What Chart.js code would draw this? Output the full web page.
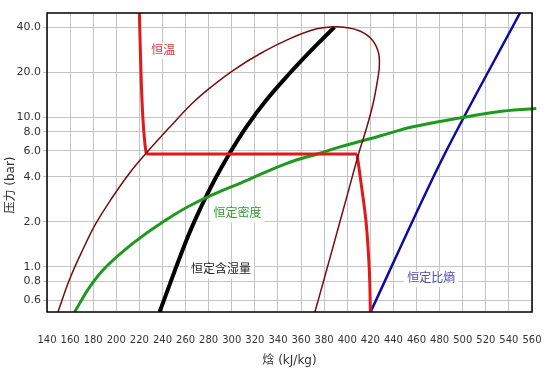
<!DOCTYPE html>
<html>
<head>
<meta charset="utf-8">
<script src="https://cdn.jsdelivr.net/npm/chart.js@4"></script>
<style>
  html, body { margin: 0; padding: 0; background: #fff; }
  canvas { display: block; }
</style>
</head>
<body>
<canvas id="phChart" width="551" height="368" style="width:551px;height:368px"></canvas>
<script>
// pressure / enthalpy chart
const yTicks = [0.6, 0.8, 1, 2, 4, 6, 8, 10, 20, 40];

// saturation dome
const domeX = [149.5, 159.5, 171.1, 182.6, 197.1, 211.4, 225.9, 246.6, 265.6, 282.1, 301.3, 324.4, 350.4, 373.5, 387.8, 398.8, 410.9, 421.3, 427, 427.8, 426.7, 422.4, 416.2, 410, 400.5, 391, 381.5, 372];
const domeY = [0.5, 0.825, 1.31, 1.97, 2.96, 4.24, 5.77, 8.67, 12.4, 16.0, 20.7, 26.7, 33.7, 39.2, 40.4, 40.0, 37.9, 33.3, 27.3, 22.3, 18.7, 12.4, 8.24, 5.77, 3.12, 1.69, 0.915, 0.5];

// 恒温 (two corners: index 4 and index 5)
const isothermX = [220, 221.5, 223, 224.7, 226, 408.5, 412.4, 416.1, 418.3, 419.5, 420];
const isothermY = [50, 18.7, 10, 6.75, 5.7, 5.7, 3.45, 2.07, 1.25, 0.8, 0.5];

// 恒定密度
const densityX = [163.9, 177.5, 191.0, 214.9, 240.3, 268.2, 314.1, 347.8, 376.3, 394.5, 428.2, 457, 499.7, 529.1, 563.7];
const densityY = [0.5, 0.745, 1.0, 1.45, 2.0, 2.68, 3.83, 4.94, 5.77, 6.38, 7.52, 8.67, 10.0, 10.9, 11.5];

// 恒定含湿量
const qualityX = [237.5, 260.9, 273.6, 285.2, 297.3, 312.7, 330, 350, 368.8, 388.9];
const qualityY = [0.5, 1.52, 2.54, 3.83, 5.62, 8.67, 13.1, 19.7, 28.1, 40.2];

// 恒定比熵
const entropyX = [420.2, 481.8, 549.6];
const entropyY = [0.5, 5.2, 50];

const lineLabels = ['恒温', '恒定密度', '恒定含湿量', '恒定比熵'];

const pts = (xs, ys, from, to) => {
  const a = xs.slice(from, to), b = ys.slice(from, to);
  return a.map((x, i) => ({ x: x, y: b[i] }));
};

// where the line names sit (x, y in axis units) and their colours
const labelSpots = [
  { x: 240.6, y: 27.8, color: '#d23a3a' },
  { x: 305, y: 2.25, color: '#2f9a2f' },
  { x: 290.7, y: 0.95, color: '#222222' },
  { x: 472.7, y: 0.83, color: '#4a4aa8' }
];

const font = "'DejaVu Sans', 'Noto Sans CJK SC', sans-serif";
const red = '#e01a1a';

const extras = {
  id: 'extras',
  beforeDatasetsDraw(chart) {
    const c = chart.ctx;
    const xs = chart.scales.x, ys = chart.scales.y;
    c.save();
    c.font = '12px ' + font;
    c.textAlign = 'center';
    c.textBaseline = 'middle';
    lineLabels.forEach((t, i) => {
      const s = labelSpots[i];
      const px = xs.getPixelForValue(s.x);
      const py = ys.getPixelForValue(s.y);
      const w = c.measureText(t).width;
      c.fillStyle = '#fff';
      c.fillRect(px - w / 2 - 3, py - 8, w + 6, 16);
      c.fillStyle = s.color;
      c.fillText(t, px, py);
    });
    c.restore();
  },
  afterDraw(chart) {
    const c = chart.ctx;
    const a = chart.chartArea;
    c.save();
    c.strokeStyle = '#000';
    c.lineWidth = 1.5;
    c.strokeRect(a.left, a.top, a.right - a.left, a.bottom - a.top);
    // y axis title
    c.translate(11, 185);
    c.rotate(-Math.PI / 2);
    c.font = '12px ' + font;
    c.fillStyle = '#333';
    c.textAlign = 'center';
    c.textBaseline = 'middle';
    c.fillText('压力 (bar)', 0, 0);
    c.restore();
  }
};

const ctx = document.getElementById('phChart');
new Chart(ctx, {
  type: 'scatter',
  data: {
    datasets: [
      { data: pts(domeX, domeY), borderColor: '#780c0c', borderWidth: 1.5, tension: 0.4 },
      { data: pts(isothermX, isothermY, 0, 5), borderColor: red, borderWidth: 3, tension: 0.4 },
      { data: pts(isothermX, isothermY, 4, 6), borderColor: red, borderWidth: 3, tension: 0 },
      { data: pts(isothermX, isothermY, 5), borderColor: red, borderWidth: 3, tension: 0.4 },
      { data: pts(densityX, densityY), borderColor: '#1d9a1d', borderWidth: 3, tension: 0.4, clip: false },
      { data: pts(qualityX, qualityY), borderColor: '#000000', borderWidth: 4, tension: 0.4 },
      { data: pts(entropyX, entropyY), borderColor: '#0c0ca0', borderWidth: 2.5, tension: 0.3 }
    ]
  },
  options: {
    responsive: false,
    animation: false,
    showLine: true,
    elements: { point: { radius: 0, hoverRadius: 0 } },
    layout: { padding: { left: 0, right: 19, top: 13, bottom: 0 } },
    plugins: { legend: { display: false }, tooltip: { enabled: false } },
    scales: {
      x: {
        type: 'linear',
        min: 140,
        max: 560,
        afterFit: s => { s.height = 56; },
        ticks: { stepSize: 20, autoSkip: false, maxRotation: 0, padding: 2, color: '#333', font: { family: font, size: 10 } },
        grid: { color: '#c4c4c4', drawTicks: true, tickLength: 20, tickColor: 'rgba(0,0,0,0)' },
        border: { display: false },
        title: { display: true, text: '焓 (kJ/kg)', color: '#333', padding: 0, font: { family: font, size: 12 } }
      },
      y: {
        type: 'logarithmic',
        min: 0.5,
        max: 50,
        afterFit: s => { s.width = 47; },
        afterBuildTicks: s => { s.ticks = yTicks.map(v => ({ value: v })); },
        ticks: { callback: v => Number(v).toFixed(1), padding: 2, color: '#333', font: { family: font, size: 11 } },
        grid: { color: '#c4c4c4', tickLength: 4 },
        border: { display: false }
      }
    }
  },
  plugins: [extras]
});
</script>
</body>
</html>
